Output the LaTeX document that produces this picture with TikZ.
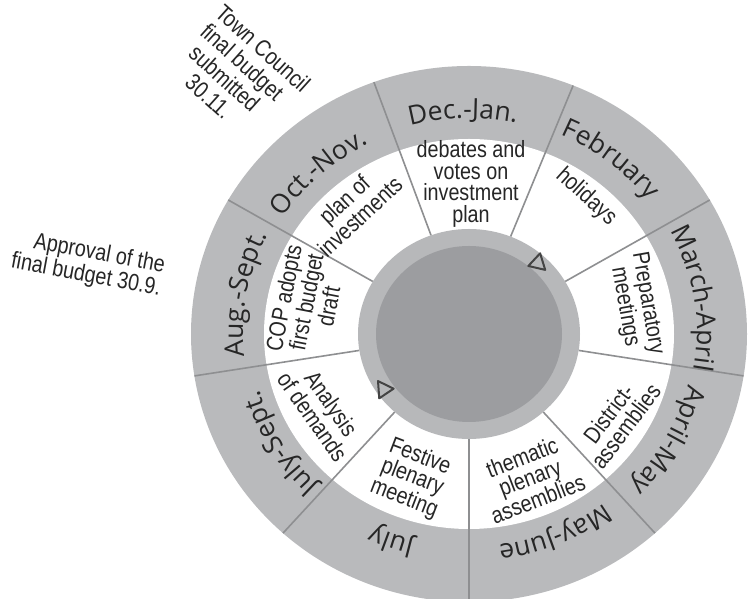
\documentclass[tikz,border=0pt]{standalone}
\usepackage{fontspec}
\setmainfont{Liberation Sans}
\newfontfamily\labelfont{Liberation Sans}[FakeStretch=0.84]
\newfontfamily\monthfont{Open Sans}
\usetikzlibrary{decorations.text}

\definecolor{ringgray}{HTML}{B9BABC}
\definecolor{hubgray}{HTML}{B7B8BA}
\definecolor{coregray}{HTML}{9C9DA0}
\definecolor{divgray}{HTML}{8E8F91}
\definecolor{inkgray}{HTML}{262626}
\definecolor{markgray}{HTML}{444444}

\newcommand\monthstyle{\monthfont\fontsize{26.5pt}{26.5pt}\selectfont\color{inkgray}}

\tikzset{
  activity/.style={font=\labelfont\fontsize{23.5pt}{21.5pt}\selectfont,
    text=inkgray, align=center, inner sep=0pt},
  note/.style={activity},
  divider/.style={draw=divgray, line width=1.6pt},
  arrowmark/.style={draw=markgray, fill=hubgray, line width=2pt, line join=round},
  monthlabel/.style={decorate, decoration={text along path, text align=center,
    text={|\monthstyle|#1}}},
}

\begin{document}
\begin{tikzpicture}[x=1pt, y=1pt]
\useasboundingbox (0,0) rectangle (748,599);

% annotations outside the wheel
\node[note, align=left, rotate=-42,
      font=\labelfont\fontsize{23.5pt}{24pt}\selectfont] (council) at (239,524)
  {Town Council\\\hspace*{1.5pt}final budget\\\hspace*{7.5pt}submitted\\\hspace*{24pt}30.11.};
\node[note, align=right, rotate=-10.5] (approval) at (88,335)
  {Approval of the\\final budget 30.9.};

\begin{scope}[shift={(469,265)}]
  \coordinate (O) at (0,0);
  % rings
  \fill[ringgray] (O) ellipse [x radius=278, y radius=268];
  \fill[white] (O) ellipse [x radius=205, y radius=195];
  % sector dividers
  \foreach \a in {110,68,30,-9,-48,-90,228,189,150}
    \draw[divider] (\a:111 and 105) -- (\a:278 and 268);
  % hub
  \fill[hubgray] (O) ellipse [x radius=111, y radius=105];
  \fill[coregray] (O) ellipse [x radius=93, y radius=88];

  % direction marks on the hub ring
  \draw[arrowmark, shift={(47:101 and 97)}, rotate=-43]
    (10,0) -- (120:10) -- (240:10) -- cycle;
  \draw[arrowmark, shift={(214:103 and 99)}, rotate=124]
    (10,0) -- (120:10) -- (240:10) -- cycle;

  % month labels on the outer ring
  \path[monthlabel={Dec.-Jan.}]   (121.5:225 and 216) arc[start angle=121.5, end angle=61.5, x radius=225, y radius=216];
  \path[monthlabel={February}]    (81.7:227 and 218)  arc[start angle=81.7, end angle=21.7, x radius=227, y radius=218];
  \path[monthlabel={March-April}] (39.3:228 and 219)  arc[start angle=39.3, end angle=-20.7, x radius=228, y radius=219];
  \path[monthlabel={April-May}]   (1.3:225 and 216)   arc[start angle=1.3, end angle=-58.7, x radius=225, y radius=216];
  \path[monthlabel={May-June}]    (-37.3:222 and 213) arc[start angle=-37.3, end angle=-97.3, x radius=222, y radius=213];
  \path[monthlabel={July}]        (280:222 and 213)   arc[start angle=280, end angle=220, x radius=222, y radius=213];
  \path[monthlabel={July-Sept.}]  (240.8:218 and 209) arc[start angle=240.8, end angle=180.8, x radius=218, y radius=209];
  \path[monthlabel={Aug.-Sept.}]  (199.5:226 and 217) arc[start angle=199.5, end angle=139.5, x radius=226, y radius=217];
  \path[monthlabel={Oct.-Nov.}]   (162:222 and 213)   arc[start angle=162, end angle=102, x radius=222, y radius=213];

  % activities in the white ring
  \node[activity] (debates) at (2,150) {debates and\\votes on\\investment\\plan};
  \node[activity, rotate=-42] (holidays) at (117,137) {holidays};
  \node[activity, rotate=-80] (prep) at (167,29) {Preparatory\\meetings};
  \node[activity, rotate=53] (district) at (148,-86) {District-\\assemblies};
  \node[activity, rotate=21] (thematic) at (61,-144) {thematic\\plenary\\assemblies};
  \node[activity, rotate=-21] (festive) at (-57,-144) {Festive\\plenary\\meeting};
  \node[activity, rotate=-55] (analysis) at (-147,-76) {Analysis\\of demands};
  \node[activity, rotate=79] (cop) at (-163,32) {COP adopts\\first budget\\draft};
  \node[activity, rotate=43] (plan) at (-117,126) {plan of\\investments};
\end{scope}
\end{tikzpicture}
\end{document}
